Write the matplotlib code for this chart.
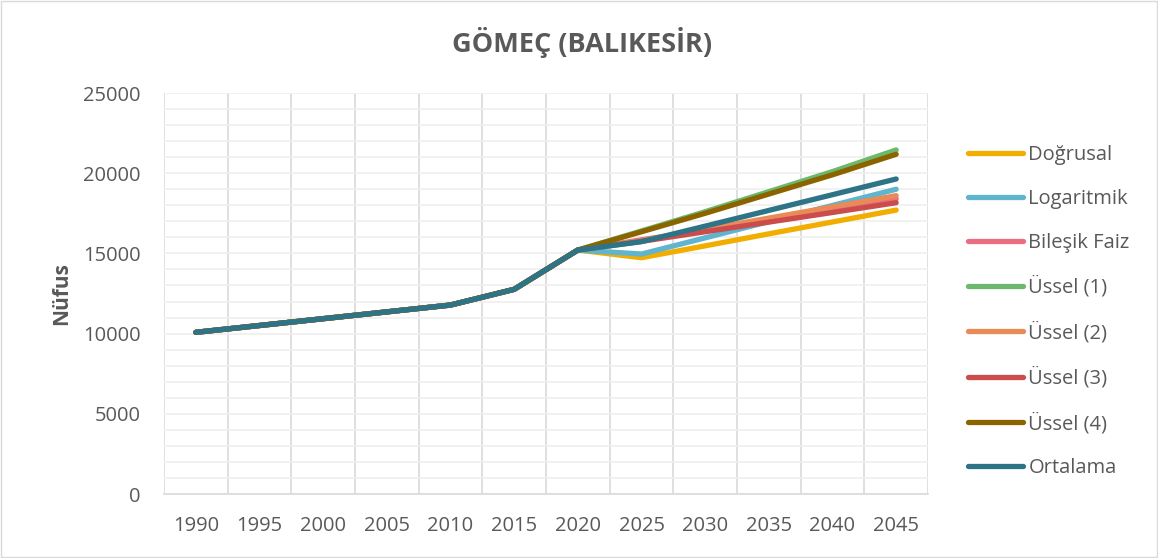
import matplotlib
matplotlib.use("Agg")
import matplotlib.pyplot as plt
from matplotlib.patches import Rectangle
from matplotlib.ticker import MultipleLocator, FixedLocator

years = [1990, 1995, 2000, 2005, 2010, 2015, 2020, 2025, 2030, 2035, 2040, 2045]
history = [10080, 10505, 10930, 11355, 11780, 12760, 15210]

dogrusal = [14730, 15470, 16220, 16960, 17700]
logaritmik = [14960, 15970, 16980, 17990, 19000]
bilesik = [15850, 16450, 17050, 17700, 18400]
ussel1 = [16400, 17600, 18850, 20100, 21450]
ussel2 = [15800, 16500, 17200, 17900, 18600]
ussel3 = [15750, 16350, 16950, 17550, 18160]
ussel4 = [16350, 17500, 18700, 19900, 21180]
ortalama = [15730, 16700, 17680, 18660, 19640]

names = ["Doğrusal", "Logaritmik", "Bileşik Faiz", "Üssel (1)", "Üssel (2)",
         "Üssel (3)", "Üssel (4)", "Ortalama"]
projections = [dogrusal, logaritmik, bilesik, ussel1, ussel2, ussel3, ussel4, ortalama]
colors = ["#F2AE00", "#5FB4CE", "#E96E80", "#6CB86C", "#E98A57", "#CC4B4B",
          "#8B6400", "#2D7486"]

plt.rcParams['font.family'] = ['Open Sans', 'DejaVu Sans']
txt = "#595959"

fig = plt.figure(figsize=(11.58, 5.58), dpi=100)
ax = fig.add_axes([164/1158, 1-494/558, (928-164)/1158, (494-93)/558])

x = list(range(len(years)))
for name, proj, c in zip(names, projections, colors):
    ax.plot(x, history + proj, color=c, lw=3.8, solid_capstyle='round',
            solid_joinstyle='round', label=name, zorder=3)

ax.set_xlim(-0.5, len(years) - 0.5)
ax.set_ylim(0, 25000)
ax.set_xticks(x)
ax.set_xticklabels([str(y) for y in years])
ax.yaxis.set_major_locator(MultipleLocator(5000))
ax.yaxis.set_minor_locator(MultipleLocator(1000))
ax.xaxis.set_minor_locator(FixedLocator([i - 0.5 for i in range(len(years) + 1)]))
ax.grid(which='minor', axis='x', color='#D9D9D9', lw=1.2, zorder=0)
ax.grid(which='both', axis='y', color='#EFEFEF', lw=1.2, zorder=0)
ax.tick_params(which='both', length=0)
ax.tick_params(axis='x', labelsize=14.5, labelcolor=txt, pad=16)
ax.tick_params(axis='y', labelsize=14.5, labelcolor=txt, pad=17)
for s in ['top', 'right', 'left']:
    ax.spines[s].set_visible(False)
ax.spines['bottom'].set_color('#D9D9D9')
ax.spines['bottom'].set_linewidth(1.2)

ax.set_ylabel("Nüfus", fontsize=15, fontweight='bold', color=txt, labelpad=8)
fig.text(582/1158, 1-43/558, "GÖMEÇ (BALIKESİR)", fontsize=19.5, fontweight='bold',
         color=txt, ha='center', va='center')

leg = fig.legend(loc='upper left', bbox_to_anchor=(960/1158, 1-137/558), frameon=False,
                 fontsize=14.5, labelspacing=1.18, handlelength=2.75, handletextpad=0.25,
                 borderaxespad=0)
for t in leg.get_texts():
    t.set_color(txt)
for h in leg.legend_handles:
    h.set_linewidth(3.8)

fig.patches.append(Rectangle((1/1158, 1/558), 1-2/1158, 1-2/558, transform=fig.transFigure,
                             fill=False, edgecolor='#D9D9D9', lw=1))

fig.savefig("out.png", dpi=100)
